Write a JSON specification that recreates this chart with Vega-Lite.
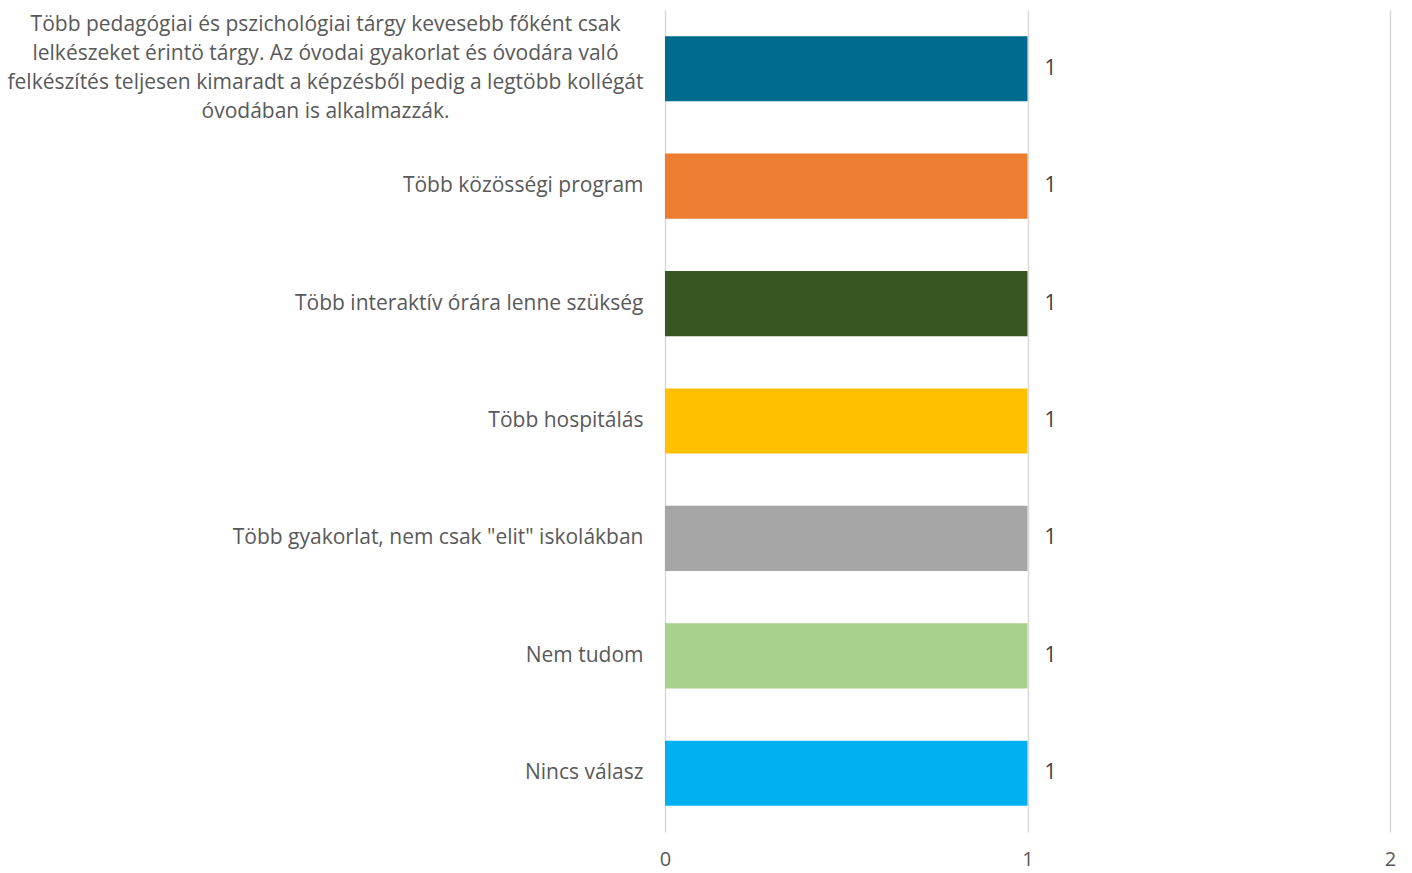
{
  "$schema": "https://vega.github.io/schema/vega-lite/v6.json",
  "width": 725,
  "height": 822,
  "autosize": "none",
  "padding": {"left": 665, "top": 10, "right": 22, "bottom": 41},
  "background": "white",
  "config": {"view": {"stroke": null}, "font": "Open Sans"},
  "data": {
    "values": [
      {"kategoria": "Több pedagógiai és pszichológiai tárgy kevesebb főként csak|lelkészeket érintö tárgy. Az óvodai gyakorlat és óvodára való|felkészítés teljesen kimaradt a képzésből pedig a legtöbb kollégát|óvodában is alkalmazzák.", "ertek": 1, "szin": "#006A8F", "sorrend": 1},
      {"kategoria": "Több közösségi program", "ertek": 1, "szin": "#ED7D31", "sorrend": 2},
      {"kategoria": "Több interaktív órára lenne szükség", "ertek": 1, "szin": "#375623", "sorrend": 3},
      {"kategoria": "Több hospitálás", "ertek": 1, "szin": "#FFC000", "sorrend": 4},
      {"kategoria": "Több gyakorlat, nem csak \"elit\" iskolákban", "ertek": 1, "szin": "#A5A5A5", "sorrend": 5},
      {"kategoria": "Nem tudom", "ertek": 1, "szin": "#A9D18E", "sorrend": 6},
      {"kategoria": "Nincs válasz", "ertek": 1, "szin": "#00B0F0", "sorrend": 7}
    ]
  },
  "encoding": {
    "y": {
      "field": "kategoria",
      "type": "nominal",
      "sort": {"field": "sorrend", "order": "ascending"},
      "scale": {"paddingInner": 0.445, "paddingOuter": 0.2225},
      "axis": {
        "title": null,
        "domain": false,
        "ticks": false,
        "labelPadding": {"condition": {"test": "indexof(datum.value, '|') > 0", "value": 340}, "value": 22},
        "labelAlign": {"condition": {"test": "indexof(datum.value, '|') > 0", "value": "center"}, "value": "right"},
        "labelOffset": {"condition": {"test": "indexof(datum.value, '|') > 0", "value": -43.5}, "value": 0},
        "labelFontSize": 21,
        "labelColor": "#595959",
        "labelLimit": 800,
        "labelLineHeight": 29,
        "labelExpr": "split(datum.value, '|')"
      }
    },
    "x": {
      "field": "ertek",
      "type": "quantitative",
      "scale": {"domain": [0, 2], "nice": false},
      "axis": {
        "title": null,
        "tickCount": 2,
        "domain": false,
        "ticks": false,
        "grid": true,
        "gridColor": "#D9D9D9",
        "gridWidth": 1.5,
        "labelPadding": 17,
        "labelFontSize": 20,
        "labelColor": "#595959",
        "labelOverlap": false,
        "labelFlush": false
      }
    }
  },
  "layer": [
    {
      "mark": {"type": "bar"},
      "encoding": {
        "color": {"field": "szin", "type": "nominal", "scale": null, "legend": null}
      }
    },
    {
      "mark": {"type": "text", "align": "left", "baseline": "middle", "dx": 17, "fontSize": 21, "color": "#404040"},
      "encoding": {"text": {"field": "ertek", "type": "quantitative", "format": "d"}}
    }
  ]
}
